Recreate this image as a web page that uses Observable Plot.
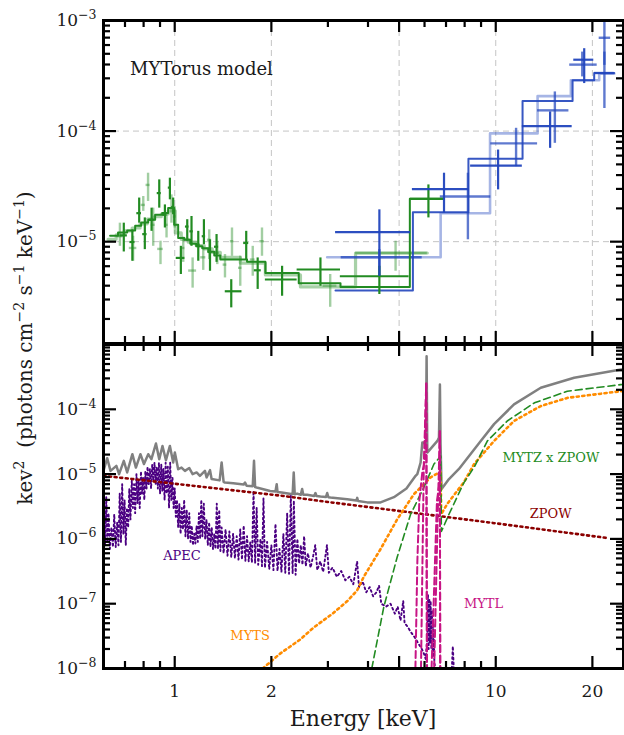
<!DOCTYPE html>
<html>
<head>
<meta charset="utf-8">
<script src="https://cdn.jsdelivr.net/npm/d3@7"></script>
<script src="https://cdn.jsdelivr.net/npm/@observablehq/plot@0.6"></script>
<style>
html,body{margin:0;padding:0;background:#fff;}
#chart{position:relative;width:624px;height:735px;overflow:hidden;font-family:"DejaVu Serif",serif;color:#1a1a1a;}
#chart > svg{position:absolute;left:0;overflow:visible;}
#ylab{position:absolute;left:25px;top:348px;transform:translate(-50%,-50%) rotate(-90deg);font-size:20px;white-space:pre;line-height:1;}
#ylab sup{font-size:14px;vertical-align:super;line-height:0;}
#xlab{position:absolute;left:363px;top:708px;transform:translateX(-50%);font-size:22px;line-height:1;white-space:pre;}
</style>
</head>
<body>
<div id="chart"></div>
<script>
// ---------------- DATA ----------------
const xMajorTicks = [1, 2, 5, 10, 20];
const xMinorTicks = [0.7, 0.8, 0.9, 3, 4, 6, 7, 8, 9];
const topYLabels = [1e-3, 1e-4, 1e-5];
const bottomYLabels = [1e-4, 1e-5, 1e-6, 1e-7, 1e-8];

// top panel: [E, Elo, Ehi, flux, fluxLo, fluxHi]
const greenDark = [
  [0.694,0.676,0.712,1.14e-5,8.07e-6,1.47e-5],
  [0.738,0.725,0.752,9.93e-6,6.65e-6,1.28e-5],
  [0.775,0.762,0.788,1.81e-5,1.47e-5,2.48e-5],
  [0.807,0.795,0.820,1.17e-5,8.47e-6,1.64e-5],
  [0.847,0.832,0.862,1.58e-5,1.24e-5,2.01e-5],
  [0.895,0.882,0.908,2.75e-5,2.01e-5,3.62e-5],
  [0.932,0.918,0.946,1.75e-5,1.33e-5,2.15e-5],
  [0.966,0.955,0.977,3.08e-5,2.39e-5,3.75e-5],
  [0.989,0.978,1.000,2.06e-5,1.75e-5,2.48e-5],
  [1.045,1.011,1.076,7.13e-6,5.05e-6,9.08e-6],
  [1.094,1.080,1.108,1.37e-5,1.01e-5,1.58e-5],
  [1.128,1.115,1.142,1.24e-5,9.08e-6,1.69e-5],
  [1.184,1.168,1.200,9.4e-6,6.65e-6,1.24e-5],
  [1.233,1.218,1.248,1.12e-5,9.4e-6,1.58e-5],
  [1.288,1.270,1.306,8.07e-6,5.4e-6,1.04e-5],
  [1.350,1.330,1.370,9.0e-6,6.5e-6,1.16e-5],
  [1.500,1.437,1.620,3.56e-6,2.52e-6,4.53e-6],
  [1.670,1.640,1.700,9.73e-6,6.89e-6,1.24e-5],
  [1.813,1.770,1.860,5.51e-6,3.7e-6,7.13e-6],
  [2.160,1.916,2.406,4.55e-6,3.21e-6,5.99e-6],
  [2.844,2.406,3.284,5.6e-6,3.95e-6,7.13e-6],
  [4.340,3.280,5.370,4.87e-6,3.33e-6,5.99e-6],
  [6.170,5.420,6.890,2.44e-5,1.64e-5,3.26e-5]
];
const greenLight = [
  [0.675,0.660,0.690,1.12e-5,9.08e-6,1.47e-5],
  [0.742,0.722,0.762,8.77e-6,6.65e-6,1.12e-5],
  [0.798,0.786,0.810,2.15e-5,1.88e-5,2.56e-5],
  [0.826,0.814,0.838,3.26e-5,2.31e-5,4.16e-5],
  [0.857,0.845,0.869,1.42e-5,9.08e-6,2.01e-5],
  [0.903,0.885,0.921,8.6e-6,6.2e-6,1.01e-5],
  [0.943,0.932,0.954,1.42e-5,1.08e-5,1.75e-5],
  [0.977,0.966,0.988,2.01e-5,1.47e-5,2.65e-5],
  [1.000,0.990,1.010,1.69e-5,1.33e-5,2.07e-5],
  [1.063,1.050,1.076,8.77e-6,6.5e-6,1.1e-5],
  [1.137,1.105,1.170,5.48e-6,3.8e-6,7.13e-6],
  [1.227,1.205,1.250,7.22e-6,5.5e-6,9.0e-6],
  [1.281,1.265,1.297,1.04e-5,6.89e-6,1.28e-5],
  [1.357,1.340,1.375,7.9e-6,6.2e-6,1.01e-5],
  [1.434,1.415,1.453,6.2e-6,4.7e-6,7.66e-6],
  [1.508,1.490,1.527,1.01e-5,7.38e-6,1.33e-5],
  [1.600,1.580,1.620,5.8e-6,3.95e-6,7.4e-6],
  [1.750,1.720,1.780,6.89e-6,4.87e-6,9.08e-6],
  [1.870,1.840,1.900,1.01e-5,7.38e-6,1.33e-5],
  [3.050,2.900,3.200,4.0e-6,2.55e-6,5.05e-6],
  [4.875,3.660,6.120,7.91e-6,5.4e-6,1.01e-5]
];
const blueDark = [
  [4.34,3.17,5.43,1.22e-5,4.85e-6,1.94e-5],
  [6.90,5.50,8.26,2.99e-5,1.82e-5,4.16e-5],
  [10.17,8.35,12.1,4.87e-5,2.94e-5,6.74e-5],
  [14.77,12.1,17.3,1.11e-4,6.98e-5,1.49e-4],
  [18.86,17.5,20.2,4.42e-4,2.69e-4,5.56e-4]
];
const blueLight = [
  [4.34,3.3,5.9,7.22e-6,4.84e-6,8.47e-6],
  [8.19,6.72,9.65,2.56e-5,1.04e-5,4.16e-5],
  [11.57,9.65,13.5,7.75e-5,4.77e-5,1.06e-4],
  [15.28,13.5,16.9,1.54e-4,7.75e-5,2.26e-4],
  [18.6,17.0,20.7,3.99e-4,3.09e-4,5.18e-4],
  [21.8,20.3,23.4,3.35e-4,1.6e-4,5.18e-4],
  [21.8,21.0,22.8,6.98e-4,3.93e-4,1.0e-3]
];
// folded model steps: bin edges and values
const greenDarkEdges = [0.629,0.666,0.711,0.753,0.786,0.827,0.869,0.914,0.954,0.996,1.025,1.071,1.118,1.167,1.218,1.272,1.328,1.387,1.680,1.916,2.434,3.284,5.40,6.90];
const greenDarkModel = [1.13e-5,1.21e-5,1.26e-5,1.39e-5,1.49e-5,1.58e-5,1.75e-5,1.82e-5,2.02e-5,1.42e-5,1.08e-5,1.04e-5,9.6e-6,9.1e-6,8.7e-6,8.1e-6,7.5e-6,6.9e-6,6.6e-6,5.2e-6,4.2e-6,3.9e-6,2.44e-5];
const greenLightEdges = [0.620,0.657,0.696,0.737,0.780,0.821,0.863,0.908,0.954,1.004,1.048,1.102,1.167,1.236,1.309,1.387,1.601,1.916,2.464,3.658,6.12];
const greenLightModel = [1.05e-5,1.15e-5,1.25e-5,1.33e-5,1.45e-5,1.6e-5,1.68e-5,1.78e-5,1.9e-5,1.2e-5,1.05e-5,9.9e-6,9.2e-6,8.6e-6,8.0e-6,7.2e-6,6.4e-6,5.0e-6,3.9e-6,7.9e-6];
const blueDarkEdges = [3.168,5.52,8.22,12.12,17.35,20.26,23.39];
const blueDarkModel = [3.62e-6,1.85e-5,5.63e-5,1.87e-4,2.88e-4,3.35e-4];
const blueLightEdges = [2.985,6.735,9.60,13.50,17.14,21.0,23.39];
const blueLightModel = [7.22e-6,1.81e-5,9.53e-5,2.07e-4,2.88e-4,3.3e-4];
const topNotes = [{label: "MYTorus model", E: 0.726, v: 3.66e-4}];

// bottom panel: model components [E, E^2 F]
const totalModel = [[0.6,1.12e-5],[0.616,1.76e-5],[0.631,1.12e-5],[0.658,1.34e-5],[0.671,1.0e-5],[0.694,1.6e-5],[0.711,1.06e-5],[0.738,2.03e-5],[0.757,1.26e-5],[0.782,2.03e-5],[0.802,1.43e-5],[0.827,2.03e-5],[0.846,1.7e-5],[0.874,2.96e-5],[0.895,1.7e-5],[0.916,2.72e-5],[0.939,1.64e-5],[0.966,2.72e-5],[0.989,1.51e-5],[1.001,2.15e-5],[1.025,1.19e-5],[1.05,1.26e-5],[1.076,1.12e-5],[1.11,1.24e-5],[1.137,1.0e-5],[1.17,1.06e-5],[1.198,9.4e-6],[1.242,1.12e-5],[1.257,8.9e-6],[1.288,1.15e-5],[1.303,8.4e-6],[1.38,8.0e-6],[1.40,1.51e-5],[1.42,7.6e-6],[1.434,7.4e-6],[1.522,7.2e-6],[1.64,6.9e-6],[1.656,7.4e-6],[1.675,6.6e-6],[1.75,6.5e-6],[1.766,1.6e-5],[1.78,6.3e-6],[1.8,6.2e-6],[1.982,5.5e-6],[2.06,5.4e-6],[2.078,7.0e-6],[2.09,5.3e-6],[2.154,5.2e-6],[2.33,4.9e-6],[2.348,1.06e-5],[2.365,4.9e-6],[2.406,5.0e-6],[2.47,4.8e-6],[2.494,5.9e-6],[2.515,4.8e-6],[2.585,4.8e-6],[2.72,4.6e-6],[2.744,5.1e-6],[2.765,4.6e-6],[2.844,4.5e-6],[2.96,4.45e-6],[2.985,5.1e-6],[3.01,4.4e-6],[3.057,4.35e-6],[3.446,4.1e-6],[3.68,3.9e-6],[3.702,4.3e-6],[3.725,3.85e-6],[3.979,3.66e-6],[4.377,3.66e-6],[4.817,4.4e-6],[5.27,6.0e-6],[5.628,9.4e-6],[5.697,1.0e-5],[5.834,1.51e-5],[5.905,3.07e-5],[5.974,3.07e-5],[6.06,2.8e-5],[6.09,6.6e-4],[6.12,2.15e-5],[6.58,3.25e-5],[6.655,3.66e-5],[6.70,2.42e-4],[6.73,3.0e-5],[6.78,5.9e-6],[6.9,6.6e-6],[7.15,8.4e-6],[7.68,1.2e-5],[8.98,3.25e-5],[9.88,5.9e-5],[11.4,1.19e-4],[13.81,2.15e-4],[17.55,3.07e-4],[24.55,4.1e-4],[25,4.15e-4]];
const apecModel = [[0.6,6.7e-7],[0.603,3.5e-6],[0.607,8e-7],[0.612,4.4e-6],[0.617,9e-7],[0.622,2.5e-6],[0.628,7e-7],[0.635,1.5e-6],[0.642,7.5e-7],[0.648,2.4e-6],[0.655,7.5e-7],[0.662,1.8e-6],[0.668,8e-7],[0.674,5e-6],[0.68,9e-7],[0.686,7e-6],[0.692,1.2e-6],[0.698,4e-6],[0.704,8e-7],[0.71,3e-6],[0.716,1.5e-6],[0.722,6e-6],[0.728,2e-6],[0.735,8e-6],[0.741,3e-6],[0.747,7e-6],[0.753,2.5e-6],[0.76,1e-5],[0.766,3.5e-6],[0.772,8e-6],[0.778,3e-6],[0.785,1.1e-5],[0.791,5e-6],[0.797,9e-6],[0.804,4e-6],[0.81,1.1e-5],[0.817,6e-6],[0.823,1.3e-5],[0.83,7e-6],[0.837,1.2e-5],[0.844,6e-6],[0.851,1.4e-5],[0.858,8e-6],[0.865,1.5e-5],[0.872,7e-6],[0.879,1.3e-5],[0.886,6e-6],[0.893,1.5e-5],[0.9,5e-6],[0.908,1.4e-5],[0.915,5.5e-6],[0.922,1.2e-5],[0.93,4e-6],[0.937,1.5e-5],[0.945,5e-6],[0.952,1.3e-5],[0.96,3e-6],[0.968,1.5e-5],[0.976,4e-6],[0.984,9e-6],[0.992,3e-6],[1.0,6e-6],[1.008,2.2e-6],[1.016,4e-6],[1.025,1.5e-6],[1.034,3.5e-6],[1.043,1.2e-6],[1.052,3e-6],[1.061,1.4e-6],[1.07,4e-6],[1.08,1.1e-6],[1.09,2.8e-6],[1.10,1e-6],[1.11,2.5e-6],[1.12,9e-7],[1.13,1.6e-6],[1.14,8e-7],[1.15,1.2e-6],[1.16,8.5e-7],[1.17,1.6e-6],[1.18,9e-7],[1.19,2.5e-6],[1.2,1e-6],[1.21,4e-6],[1.22,1.1e-6],[1.232,3.5e-6],[1.244,1e-6],[1.256,2e-6],[1.268,8e-7],[1.28,1.8e-6],[1.292,7.5e-7],[1.304,1.5e-6],[1.316,7e-7],[1.328,1.2e-6],[1.34,7e-7],[1.352,3.5e-6],[1.364,7e-7],[1.376,2.8e-6],[1.388,6.5e-7],[1.40,1.5e-6],[1.42,6e-7],[1.44,1.4e-6],[1.46,5.5e-7],[1.48,1.3e-6],[1.50,5.2e-7],[1.52,1.2e-6],[1.54,5e-7],[1.56,1.1e-6],[1.58,4.8e-7],[1.60,1.4e-6],[1.62,4.8e-7],[1.64,1.6e-6],[1.66,4.6e-7],[1.68,1.1e-6],[1.70,4.5e-7],[1.72,9e-7],[1.74,4.3e-7],[1.76,5.5e-6],[1.78,4.2e-7],[1.80,3e-6],[1.82,4e-7],[1.85,1e-6],[1.87,3.8e-7],[1.89,4.2e-6],[1.91,3.6e-7],[1.94,9e-7],[1.97,3.4e-7],[2.0,8e-7],[2.03,3.3e-7],[2.06,1.7e-6],[2.09,3.2e-7],[2.12,7e-7],[2.15,3.1e-7],[2.18,1.2e-6],[2.21,3e-7],[2.24,2.5e-6],[2.27,2.9e-7],[2.30,4.6e-6],[2.33,2.9e-7],[2.35,3.9e-6],[2.38,2.8e-7],[2.41,1.0e-6],[2.44,4.2e-7],[2.47,8e-7],[2.50,4e-7],[2.53,1.1e-6],[2.56,3.8e-7],[2.60,6e-7],[2.65,3.6e-7],[2.70,5.5e-7],[2.74,8e-7],[2.78,3.3e-7],[2.84,4.5e-7],[2.9,3.1e-7],[2.98,8e-7],[3.02,3e-7],[3.1,3.6e-7],[3.2,2.6e-7],[3.3,3.2e-7],[3.4,2.3e-7],[3.5,2.6e-7],[3.6,2e-7],[3.70,4.5e-7],[3.75,1.8e-7],[3.85,2.2e-7],[3.95,1.5e-7],[4.05,1.8e-7],[4.15,1.3e-7],[4.25,1.5e-7],[4.33,1.9e-7],[4.40,1.0e-7],[4.55,9e-8],[4.7,1.0e-7],[4.85,7e-8],[4.95,9e-8],[5.05,5.5e-8],[5.15,1.1e-7],[5.2,5e-8],[5.3,4.5e-8],[5.45,3.6e-8],[5.6,3e-8],[5.75,2.4e-8],[5.85,2.1e-8],[5.95,1.8e-8],[6.05,1.4e-8],[6.12,3e-8],[6.15,1.4e-7],[6.18,2e-8],[6.21,1.2e-7],[6.24,2.5e-8],[6.27,1.1e-7],[6.30,2e-8],[6.33,8e-8],[6.36,1.5e-8],[6.40,5e-8],[6.44,1.2e-8],[6.5,1.0e-8]];
const apecFeTail = [[7.3,1e-8],[7.35,2.2e-8],[7.4,1e-8]];
const zpowModel = [[0.6,9.4e-6],[1.0,7.1e-6],[2.18,4.6e-6],[2.84,3.84e-6],[5.0,2.7e-6],[10,1.74e-6],[22.3,1.03e-6]];
const mytsModel = [[1.88,1e-8],[2.13,1.7e-8],[2.46,2.8e-8],[2.71,4.3e-8],[3.1,7e-8],[3.45,1.1e-7],[3.7,1.6e-7],[3.88,2.6e-7],[4.38,7e-7],[4.93,2.0e-6],[5.56,4.9e-6],[6.27,8.9e-6],[6.66,1.06e-5],[6.74,1.06e-5],[6.76,2.4e-6],[7.07,3.5e-6],[7.96,7.5e-6],[8.56,1.43e-5],[9.88,3.25e-5],[11.4,6.6e-5],[13.8,1.12e-4],[16.7,1.5e-4],[24.5,1.9e-4],[25,1.92e-4]];
const mytzModel = [[4.11,1e-8],[4.48,8.9e-8],[4.93,5.2e-7],[5.43,2.4e-6],[5.97,6.2e-6],[6.42,1.43e-5],[6.74,1.9e-5],[6.77,1.3e-6],[7.15,2.4e-6],[7.96,7.4e-6],[8.56,1.27e-5],[9.42,3.25e-5],[10.86,6.6e-5],[13.2,1.26e-4],[16.7,1.9e-4],[24.5,2.4e-4],[25,2.42e-4]];
// MYTL line profiles: [component, E, E^2 F]
const mytlModel = [
  ["Ka1",5.62,1e-8],["Ka1",5.70,4.6e-7],["Ka1",5.78,3.9e-6],["Ka1",5.91,1.1e-5],["Ka1",6.0,1.5e-5],["Ka1",6.07,2.5e-4],["Ka1",6.11,1e-8],
  ["Ka2",5.85,1e-8],["Ka2",5.97,1.5e-5],["Ka2",6.08,2.5e-4],["Ka2",6.10,1e-8],
  ["Kb1",6.31,1e-8],["Kb1",6.44,2.3e-7],["Kb1",6.56,3.9e-6],["Kb1",6.66,6.6e-6],["Kb1",6.69,4.6e-5],["Kb1",6.72,1e-8],
  ["Kb2",6.43,1e-8],["Kb2",6.62,5e-6],["Kb2",6.70,4.6e-5],["Kb2",6.71,1e-8]
];
const componentLabels = [
  {label: "APEC", E: 1.053, v: 5.53e-7},
  {label: "MYTS", E: 1.717, v: 3.25e-8},
  {label: "MYTL", E: 9.16, v: 1.0e-7},
  {label: "ZPOW", E: 14.82, v: 2.48e-6},
  {label: "MYTZ x ZPOW", E: 14.85, v: 1.8e-5}
];

// ---------------- STYLE ----------------
const GREEN = "#228b22", BLUE = "#2145bd";
const compColor = {"APEC": "#4b0082", "MYTS": "#ff8c00", "MYTL": "#c71585", "ZPOW": "#8b0000", "MYTZ x ZPOW": "#228b22"};
const FONT = "DejaVu Serif";

// ---------------- HELPERS ----------------
const pts = rows => rows.map(([E, Elo, Ehi, v, vlo, vhi]) => ({E, Elo, Ehi, v, vlo, vhi}));
const xy = rows => rows.map(([E, v]) => ({E, v}));
function steps(edges, vals) {
  const res = [];
  vals.forEach((v, i) => { res.push({E: edges[i], v}); res.push({E: edges[i + 1], v}); });
  return res;
}
function errMarks(rows, color, opacity, width) {
  const d = pts(rows);
  return [
    Plot.ruleY(d, {y: "v", x1: "Elo", x2: "Ehi", stroke: color, strokeOpacity: opacity, strokeWidth: width}),
    Plot.ruleX(d, {x: "E", y1: "vlo", y2: "vhi", stroke: color, strokeOpacity: opacity, strokeWidth: width})
  ];
}
function minorDecades(lo, hi) {
  const res = [];
  for (let e = lo; e < hi; e++) for (let m = 2; m <= 9; m++) res.push(m * Math.pow(10, e));
  return res;
}
// inward ticks on all four edges as rule marks; a tick of `len` pixels spans a
// factor of 10^(len / pixelsPerDecade) along the log axis
function tickRules(xDomain, yDomain, plotW, plotH, yMaj, yMin) {
  const pxDecX = plotW / Math.log10(xDomain[1] / xDomain[0]);
  const pxDecY = plotH / Math.log10(yDomain[1] / yDomain[0]);
  const fx = len => Math.pow(10, len / pxDecX), fy = len => Math.pow(10, len / pxDecY);
  const s = {stroke: "black", strokeWidth: 2.2};
  const m = [];
  for (const [vals, len] of [[xMajorTicks, 12], [xMinorTicks, 7]]) {
    m.push(Plot.ruleX(vals, {...s, x: d => d, y1: () => yDomain[0], y2: () => yDomain[0] * fy(len)}));
    m.push(Plot.ruleX(vals, {...s, x: d => d, y1: () => yDomain[1], y2: () => yDomain[1] / fy(len)}));
  }
  for (const [vals, len] of [[yMaj, 13], [yMin, 7]]) {
    m.push(Plot.ruleY(vals, {...s, y: d => d, x1: () => xDomain[0], x2: () => xDomain[0] * fx(len)}));
    m.push(Plot.ruleY(vals, {...s, y: d => d, x1: () => xDomain[1], x2: () => xDomain[1] / fx(len)}));
  }
  return m;
}
const powFmt = d => "10^\u2212" + Math.round(-Math.log10(d));
function supify(svg) {
  const ns = "http://www.w3.org/2000/svg";
  svg.querySelectorAll('[aria-label="y-axis tick label"] text').forEach(t => {
    const [b, e] = t.textContent.split("^");
    if (e === undefined) return;
    t.textContent = "";
    const t1 = document.createElementNS(ns, "tspan"); t1.textContent = b;
    const t2 = document.createElementNS(ns, "tspan"); t2.textContent = e;
    t2.setAttribute("font-size", "12.5"); t2.setAttribute("dy", "-7");
    t.append(t1, t2);
  });
}

const X_DOMAIN = [0.6, 25];
const TOP_Y = [1.2e-6, 1e-3], BOT_Y = [1e-8, 1e-3];
const lineOpts = {x: "E", y: "v"};

// ---------------- TOP PANEL ----------------
const topPlot = Plot.plot({
  width: 624, height: 344,
  marginLeft: 103, marginRight: 1, marginTop: 20, marginBottom: 1,
  x: {type: "log", domain: X_DOMAIN, axis: null},
  y: {type: "log", domain: TOP_Y},
  style: {fontFamily: FONT, fontSize: "17px", color: "black", background: "transparent", overflow: "visible"},
  marks: [
    Plot.gridX(xMajorTicks, {stroke: "#c4c4c4", strokeOpacity: 1, strokeDasharray: "6,4"}),
    Plot.gridY([1e-4, 1e-5], {stroke: "#c4c4c4", strokeOpacity: 1, strokeDasharray: "6,4"}),
    Plot.line(steps(greenLightEdges, greenLightModel), {...lineOpts, stroke: GREEN, strokeOpacity: 0.4, strokeWidth: 3.2}),
    Plot.line(steps(blueLightEdges, blueLightModel), {...lineOpts, stroke: BLUE, strokeOpacity: 0.4, strokeWidth: 2.6}),
    ...errMarks(greenLight, GREEN, 0.42, 2.4),
    ...errMarks(blueLight, BLUE, 0.72, 2.4),
    Plot.line(steps(greenDarkEdges, greenDarkModel), {...lineOpts, stroke: GREEN, strokeWidth: 2}),
    Plot.line(steps(blueDarkEdges, blueDarkModel), {...lineOpts, stroke: BLUE, strokeOpacity: 0.9, strokeWidth: 2}),
    ...errMarks(greenDark, GREEN, 1, 2.2),
    ...errMarks(blueDark, BLUE, 0.95, 2.2),
    Plot.text(topNotes, {x: "E", y: "v", text: "label", textAnchor: "start", fontSize: 18, fill: "#1a1a1a"}),
    ...tickRules(X_DOMAIN, TOP_Y, 520, 323, [1e-5, 1e-4, 1e-3], minorDecades(-6, -3)),
    Plot.frame({stroke: "black", strokeWidth: 3}),
    Plot.axisY(topYLabels, {anchor: "left", tickSize: 0, tickPadding: 7, tickFormat: powFmt, label: null, fill: "#1a1a1a"})
  ]
});
topPlot.style.top = "0px";
supify(topPlot);

// ---------------- BOTTOM PANEL ----------------
const bottomPlot = Plot.plot({
  width: 624, height: 393,
  marginLeft: 103, marginRight: 1, marginTop: 2, marginBottom: 67,
  x: {type: "log", domain: X_DOMAIN},
  y: {type: "log", domain: BOT_Y},
  style: {fontFamily: FONT, fontSize: "17px", color: "black", background: "transparent", overflow: "visible"},
  marks: [
    Plot.line(xy(totalModel), {...lineOpts, stroke: "#808080", strokeWidth: 2.5}),
    Plot.line(xy(apecModel), {...lineOpts, stroke: compColor["APEC"], strokeWidth: 1.9, strokeDasharray: "1.8,3"}),
    Plot.line(xy(apecFeTail), {...lineOpts, stroke: compColor["APEC"], strokeWidth: 1.9, strokeDasharray: "1.8,3"}),
    Plot.line(xy(zpowModel), {...lineOpts, stroke: compColor["ZPOW"], strokeWidth: 2.6, strokeDasharray: "2,3.6"}),
    Plot.line(xy(mytsModel), {...lineOpts, stroke: compColor["MYTS"], strokeWidth: 2.6, strokeDasharray: "2.2,3.4"}),
    Plot.line(xy(mytzModel), {...lineOpts, stroke: compColor["MYTZ x ZPOW"], strokeWidth: 1.6, strokeDasharray: "7,4"}),
    Plot.line(mytlModel.map(([c, E, v]) => ({c, E, v})), {...lineOpts, z: "c", stroke: compColor["MYTL"], strokeWidth: 2, strokeDasharray: "7,3.5"}),
    Plot.text(componentLabels, {x: "E", y: "v", text: "label", fill: d => compColor[d.label], fontSize: 13}),
    ...tickRules(X_DOMAIN, BOT_Y, 520, 324, [1e-8, 1e-7, 1e-6, 1e-5, 1e-4, 1e-3], minorDecades(-8, -3)),
    Plot.frame({stroke: "black", strokeWidth: 3}),
    Plot.axisY(bottomYLabels, {anchor: "left", tickSize: 0, tickPadding: 7, tickFormat: powFmt, label: null, fill: "#1a1a1a"}),
    Plot.axisX(xMajorTicks, {anchor: "bottom", tickSize: 0, tickPadding: 16, tickFormat: d => String(d), label: null, fill: "#1a1a1a"})
  ]
});
bottomPlot.style.top = "342px";
supify(bottomPlot);

const chart = document.getElementById("chart");
chart.append(topPlot, bottomPlot);

// ---------------- AXIS TITLES (HTML text) ----------------
const ylab = document.createElement("div");
ylab.id = "ylab";
ylab.innerHTML = "kev<sup>2</sup>  (photons cm<sup>\u22122</sup> s<sup>\u22121</sup> keV<sup>\u22121</sup>)";
const xlab = document.createElement("div");
xlab.id = "xlab";
xlab.textContent = "Energy [keV]";
chart.append(ylab, xlab);
</script>
</body>
</html>
